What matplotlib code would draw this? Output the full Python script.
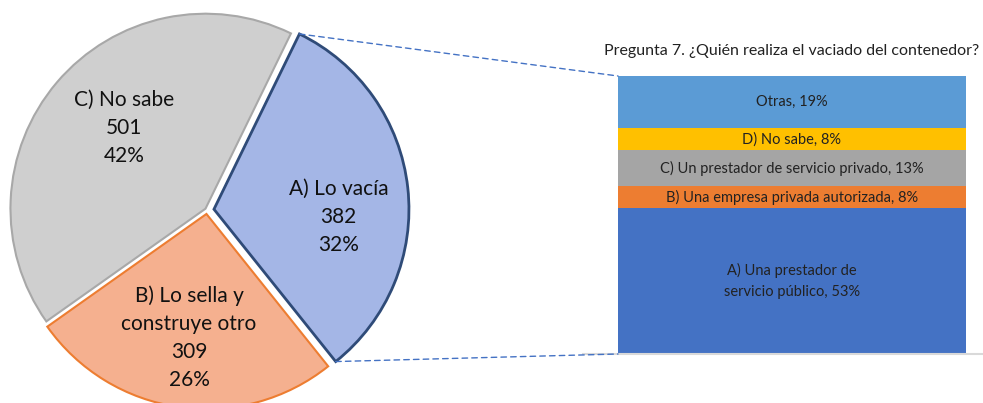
import numpy as np
import matplotlib.pyplot as plt
from matplotlib.patches import ConnectionPatch

plt.rcParams['font.family'] = ['Lato', 'DejaVu Sans']

# pie data
pie_labels = ['A) Lo vacía', 'B) Lo sella y\nconstruye otro', 'C) No sabe']
pie_values = [382, 309, 501]
pie_colors = ['#A4B6E6', '#F5B08F', '#CFCFCF']
pie_edges = ['#2F4B78', '#ED7D31', '#A8A8A8']

# bar data (bottom to top)
bar_labels = ['A) Una prestador de\nservicio público', 'B) Una empresa privada autorizada',
              'C) Un prestador de servicio privado', 'D) No sabe', 'Otras']
bar_values = [53, 8, 13, 8, 19]
bar_colors = ['#4472C4', '#ED7D31', '#A5A5A5', '#FFC000', '#5B9BD5']

title = 'Pregunta 7. ¿Quién realiza el vaciado del contenedor?'

W, H = 983, 403
fig = plt.figure(figsize=(W / 100, H / 100), dpi=100)
ax = fig.add_axes([0, 0, 1, 1])

# explode is in data units (pixels here)
wedges, _ = ax.pie(pie_values, center=(207, 193), radius=195, counterclock=False,
                   startangle=64, colors=pie_colors, explode=[7, 4, 2],
                   wedgeprops=dict(linewidth=1.5))
for w, ec in zip(wedges, pie_edges):
    w.set_edgecolor(ec)
wedges[0].set_linewidth(2)
ax.set_xlim(0, W)
ax.set_ylim(0, H)
ax.set_aspect('equal')
ax.axis('off')

total = sum(pie_values)
# label placement: (distance as fraction of radius, angle shift from wedge middle)
placement = [(0.64, -10), (0.64, 0), (0.59, -4.5)]
for w, lab, v, (d, shift) in zip(wedges, pie_labels, pie_values, placement):
    ang = np.deg2rad((w.theta1 + w.theta2) / 2 + shift)
    cx, cy = w.center
    x = cx + d * w.r * np.cos(ang)
    y = cy + d * w.r * np.sin(ang)
    ax.text(x, y, f'{lab}\n{v}\n{round(v / total * 100)}%', ha='center', va='center',
            fontsize=15, color='#111111', linespacing=1.5)

# stacked bar
ax2 = fig.add_axes([618 / W, (H - 354) / H, 348 / W, 278 / H])
bottom = 0
for lab, v, c in zip(bar_labels, bar_values, bar_colors):
    ax2.bar(0, v, width=1, bottom=bottom, color=c)
    ax2.text(0, bottom + v / 2, f'{lab}, {v}%', ha='center', va='center',
             fontsize=10.5, color='#222222', linespacing=1.6)
    bottom += v
ax2.set_xlim(-0.5, 0.5)
ax2.set_ylim(0, bottom)
ax2.axis('off')
ax2.axhline(0, xmin=-0.1, xmax=1.05, color='#D9D9D9', lw=1.5, clip_on=False)
ax2.set_title(title, fontsize=11.5, color='#222222', pad=15)

# connector lines from the blue wedge to the bar
w = wedges[0]
cx, cy = w.center
for theta, yb in [(w.theta2, bottom), (w.theta1, 0)]:
    t = np.deg2rad(theta)
    p = (cx + w.r * np.cos(t), cy + w.r * np.sin(t))
    con = ConnectionPatch(xyA=p, coordsA=ax.transData, xyB=(-0.5, yb), coordsB=ax2.transData,
                          color='#4472C4', linestyle=(0, (4, 3)), lw=1)
    fig.add_artist(con)

fig.savefig('out.png', dpi=100)
